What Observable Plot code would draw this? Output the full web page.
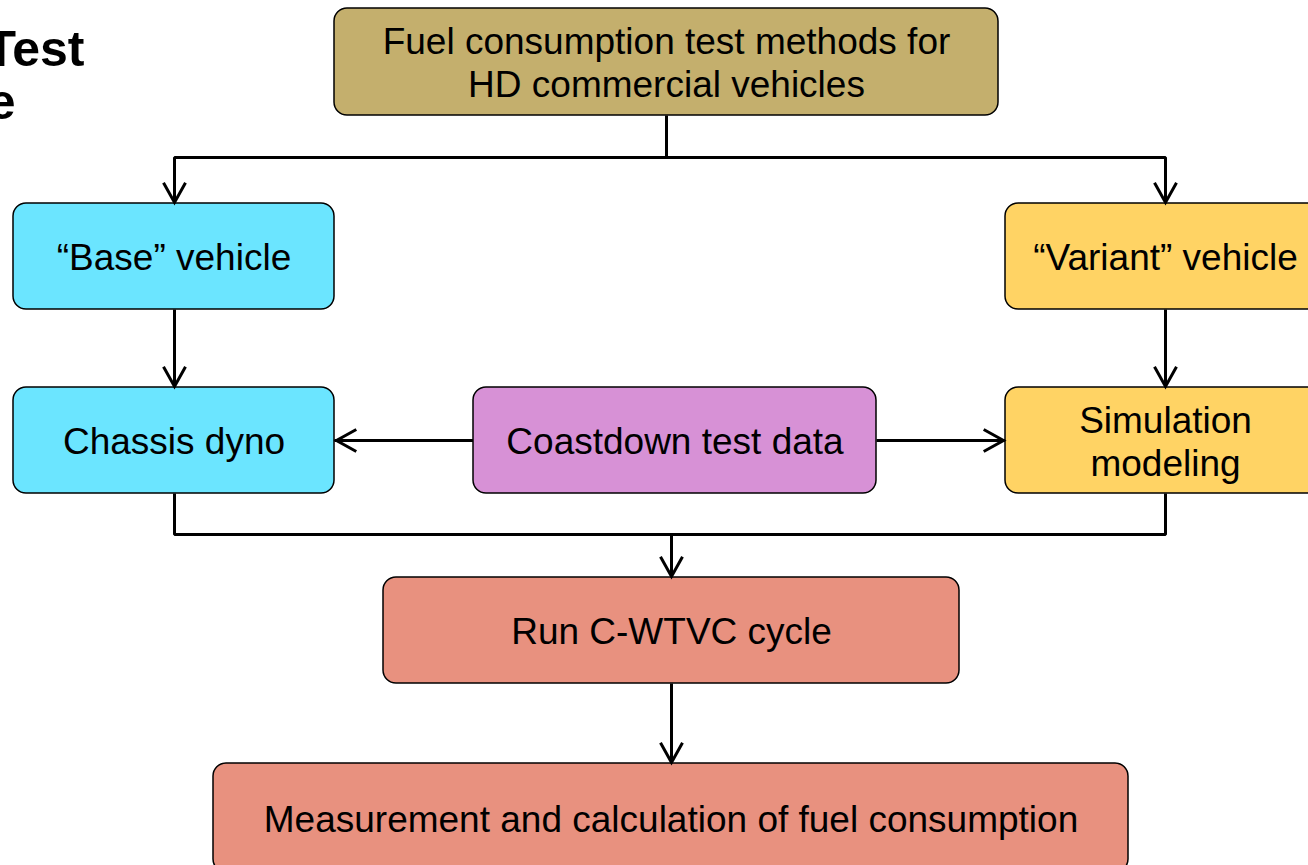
<!DOCTYPE html>
<html>
<head>
<meta charset="utf-8">
<script src="https://cdn.jsdelivr.net/npm/d3@7"></script>
<script src="https://cdn.jsdelivr.net/npm/@observablehq/plot@0.6"></script>
<style>
  html, body { margin: 0; padding: 0; background: #fff; overflow: hidden; }
  #chart svg { display: block; }
</style>
</head>
<body>
<div id="chart"></div>
<script>
// ---- Flowchart content ----
const nodeLabels = [
  "Fuel consumption test methods for\nHD commercial vehicles",
  "“Base” vehicle",
  "“Variant” vehicle",
  "Chassis dyno",
  "Coastdown test data",
  "Simulation\nmodeling",
  "Run C-WTVC cycle",
  "Measurement and calculation of fuel consumption"
];
const nodeColors = ["#C4AF6D", "#6BE5FF", "#FFD364", "#6BE5FF", "#D791D6", "#FFD364", "#E8917F", "#E8917F"];

// layout of boxes (pixel space of the diagram)
const nodeLeft   = [334, 13, 1005, 13, 473, 1005, 383, 213];
const nodeRight  = [998, 334, 1325, 334, 876, 1325, 959, 1128];
const nodeTop    = [8, 203, 203, 387, 387, 387, 577, 763];
const nodeBottom = [115, 309, 309, 493, 493, 493, 683, 872];

// connector polylines
const connectorPaths = [
  [[666, 115], [666, 157]],
  [[174, 203], [174, 157], [1165, 157], [1165, 203]],
  [[174, 309], [174, 387]],
  [[1165, 309], [1165, 387]],
  [[473, 440], [334, 440]],
  [[876, 440], [1005, 440]],
  [[174, 493], [174, 534], [1165, 534], [1165, 493]],
  [[671, 534], [671, 577]],
  [[671, 683], [671, 763]]
];
const arrowDownTips  = [[174, 202], [1165, 202], [174, 386], [1165, 386], [671, 576], [671, 762]];
const arrowLeftTips  = [[336, 440]];
const arrowRightTips = [[1003, 440]];

const titleLines = ["Fuel Consumption Test", "Procedure"];
const titleAnchorX = [84, 15];
const titleBaseline = [65, 118];

// ---- build tables ----
const nodes = nodeLabels.map((label, i) => ({
  label, fill: nodeColors[i],
  x1: nodeLeft[i], x2: nodeRight[i], y1: nodeTop[i], y2: nodeBottom[i]
}));
const connectorPoints = connectorPaths.flatMap((pts, k) => pts.map(([x, y]) => ({k, x, y})));
const titles = titleLines.map((t, i) => ({t, x: titleAnchorX[i], y: titleBaseline[i]}));
const tipsDown = arrowDownTips.map(([x, y]) => ({x, y}));
const tipsLeft = arrowLeftTips.map(([x, y]) => ({x, y}));
const tipsRight = arrowRightTips.map(([x, y]) => ({x, y}));

// chevron symbols (tip at origin)
function chevron(dir) {
  return {
    draw(context, size) {
      const s = Math.sqrt(size / Math.PI);
      const d = 1.8 * s;
      if (dir === "down") { context.moveTo(-s, -d); context.lineTo(0, 0); context.lineTo(s, -d); }
      if (dir === "left") { context.moveTo(d, -s); context.lineTo(0, 0); context.lineTo(d, s); }
      if (dir === "right") { context.moveTo(-d, -s); context.lineTo(0, 0); context.lineTo(-d, s); }
    }
  };
}
const headStyle = {fill: "none", stroke: "black", strokeWidth: 3, r: 11, strokeLinejoin: "miter", strokeLinecap: "butt"};
const font = "'Liberation Sans', Arial, Helvetica, sans-serif";

const chart = Plot.plot({
  width: 1308,
  height: 865,
  margin: 0,
  x: {type: "linear", domain: [0, 1308], range: [0, 1308], axis: null},
  y: {type: "linear", domain: [0, 865], range: [0, 865], axis: null},
  style: {fontFamily: font, background: "white"},
  marks: [
    Plot.line(connectorPoints, {x: "x", y: "y", z: "k", stroke: "black", strokeWidth: 3, strokeLinejoin: "miter", strokeLinecap: "butt", curve: "linear"}),
    Plot.rect(nodes, {x1: "x1", x2: "x2", y1: "y1", y2: "y2", fill: "fill", stroke: "black", strokeWidth: 1.5, rx: 13}),
    Plot.text(nodes, {
      x: d => (d.x1 + d.x2) / 2,
      y: d => (d.y1 + d.y2) / 2,
      text: "label", fontSize: 37, lineHeight: 1.16, fill: "black", fontFamily: font
    }),
    Plot.dot(tipsDown, {x: "x", y: "y", symbol: chevron("down"), ...headStyle}),
    Plot.dot(tipsLeft, {x: "x", y: "y", symbol: chevron("left"), ...headStyle}),
    Plot.dot(tipsRight, {x: "x", y: "y", symbol: chevron("right"), ...headStyle}),
    Plot.text(titles, {
      x: "x", y: d => d.y - 16, text: "t", textAnchor: "end",
      fontSize: 50, fontWeight: "bold", fill: "black", fontFamily: font
    })
  ]
});
document.getElementById("chart").appendChild(chart);
</script>
</body>
</html>
